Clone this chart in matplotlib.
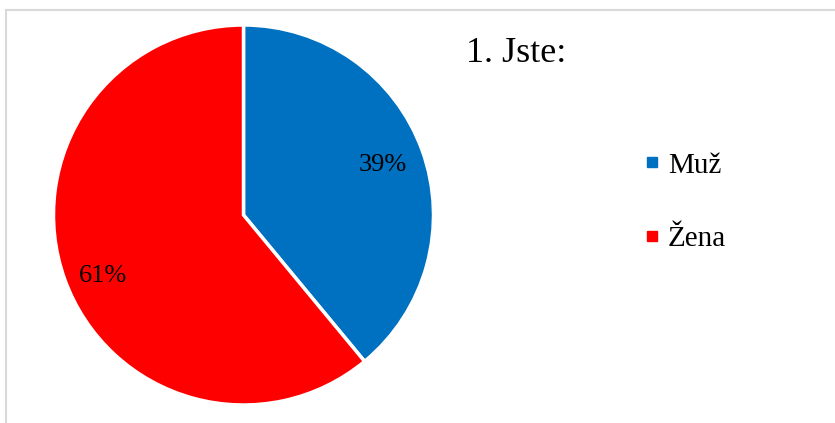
import matplotlib
matplotlib.use("Agg")
import matplotlib.pyplot as plt
from matplotlib.lines import Line2D

categories = ["Muž", "Žena"]
values = [39, 61]
colors = ["#0070C0", "#FF0000"]
title = "1. Jste:"

W, H = 835, 423
fig = plt.figure(figsize=(W / 100, H / 100), dpi=100)
plt.rcParams['font.family'] = ['Liberation Serif', 'DejaVu Serif']

# border (top and left lines)
fig.add_artist(Line2D([6 / W, 6 / W], [0, 1 - 10 / H], transform=fig.transFigure, color="#D9D9D9", lw=1.5))
fig.add_artist(Line2D([6 / W, 1], [1 - 10 / H, 1 - 10 / H], transform=fig.transFigure, color="#D9D9D9", lw=1.5))

cx, cy, r = 243.5, 215, 190
ax = fig.add_axes([(cx - r) / W, 1 - (cy + r) / H, 2 * r / W, 2 * r / H])
wedges, texts, autotexts = ax.pie(values, colors=colors, startangle=90, counterclock=False,
                                  autopct=lambda p: f"{p:.0f}%", pctdistance=0.78,
                                  wedgeprops=dict(edgecolor="white", linewidth=2.5),
                                  textprops=dict(fontsize=19, color="black"))
autotexts[1].set_position((-0.74, -0.32))
ax.set_xlim(-1, 1)
ax.set_ylim(-1, 1)
ax.set_aspect("equal")
ax.axis("off")

fig.text(466 / W, 1 - 54 / H, title, fontsize=26, ha="left", va="center")

handles = [Line2D([], [], marker="s", linestyle="none", markersize=7, markerfacecolor=c, markeredgecolor=c)
           for c in colors]
fig.legend(handles, categories, loc="center left", bbox_to_anchor=(611 / W, 1 - 202 / H),
           frameon=False, fontsize=21, labelspacing=1.6, handletextpad=0.05, handlelength=1.0)

fig.savefig("out.png", dpi=100)
